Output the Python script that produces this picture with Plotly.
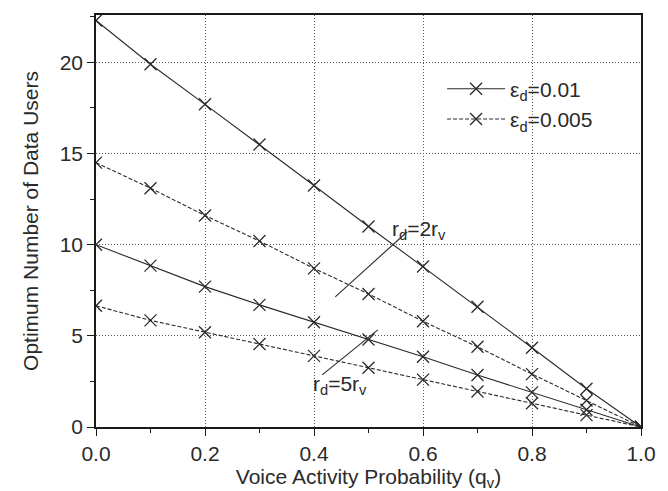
import plotly.graph_objects as go

q = [0.0, 0.1, 0.2, 0.3, 0.4, 0.5, 0.6, 0.7, 0.8, 0.9, 1.0]
eps01_rd2 = [22.3, 19.9, 17.7, 15.5, 13.25, 11.0, 8.8, 6.6, 4.35, 2.1, 0.0]
eps005_rd2 = [14.5, 13.1, 11.6, 10.2, 8.7, 7.3, 5.8, 4.4, 2.9, 1.45, 0.0]
eps01_rd5 = [10.0, 8.85, 7.7, 6.7, 5.75, 4.8, 3.85, 2.85, 1.9, 0.95, 0.0]
eps005_rd5 = [6.65, 5.85, 5.2, 4.55, 3.9, 3.25, 2.6, 1.95, 1.3, 0.65, 0.0]

x_ticks = [0.0, 0.2, 0.4, 0.6, 0.8, 1.0]
x_tick_labels = ["0.0", "0.2", "0.4", "0.6", "0.8", "1.0"]
y_ticks = [0, 5, 10, 15, 20]

legend_names = ["ε<sub>d</sub>=0.01", "ε<sub>d</sub>=0.005"]

# annotation pointer lines (data coords)
ann2_x = [0.439, 0.571]
ann2_y = [7.14, 10.71]
ann5_x = [0.415, 0.517]
ann5_y = [2.86, 5.33]

C = "#2a2a2a"
FONT = "Liberation Sans, Arial, sans-serif"
FS = 21

fig = go.Figure()

def add(y, dash, name, show):
    fig.add_trace(go.Scatter(
        x=q, y=y, mode="lines+markers", name=name, showlegend=show,
        line=dict(color=C, width=1.1, dash=dash),
        marker=dict(symbol="x-thin-open", size=12, line=dict(color=C, width=1.3), color=C),
    ))

add(eps01_rd2, "solid", legend_names[0], True)
add(eps005_rd2, "4px,2px", legend_names[1], True)
add(eps01_rd5, "solid", legend_names[0], False)
add(eps005_rd5, "4px,2px", legend_names[1], False)

for xs, ys in [(ann2_x, ann2_y), (ann5_x, ann5_y)]:
    fig.add_trace(go.Scatter(x=xs, y=ys, mode="lines", showlegend=False,
                             line=dict(color=C, width=1.1), hoverinfo="skip"))

fig.add_annotation(x=0.54, y=10.8, text="r<sub>d</sub>=2r<sub>v</sub>", showarrow=False,
                   xanchor="left", yanchor="middle", font=dict(size=FS, color=C, family=FONT))
fig.add_annotation(x=0.395, y=2.3, text="r<sub>d</sub>=5r<sub>v</sub>", showarrow=False,
                   xanchor="left", yanchor="middle", font=dict(size=FS, color=C, family=FONT))

axis_common = dict(
    showline=True, linecolor="#1a1a1a", linewidth=1.5, mirror=True,
    ticks="outside", ticklen=7, tickwidth=1.3, tickcolor="#1a1a1a",
    showgrid=True, gridcolor="#555555", griddash="1px,2px", gridwidth=1,
    zeroline=False, tickfont=dict(size=FS, color=C, family=FONT),
    automargin=False,
)

fig.update_xaxes(range=[0, 1], tickvals=x_ticks, ticktext=x_tick_labels,
                 minor=dict(dtick=0.1, ticks="outside", ticklen=4, tickcolor="#1a1a1a", showgrid=False),
                 title=dict(text="Voice Activity Probability (q<sub>v</sub>)", font=dict(size=FS, color=C, family=FONT)),
                 **axis_common)
fig.update_yaxes(range=[0, 22.6], tickvals=y_ticks,
                 minor=dict(dtick=2.5, ticks="outside", ticklen=4, tickcolor="#1a1a1a", showgrid=False),
                 title=dict(text="Optimum Number of Data Users", font=dict(size=FS, color=C, family=FONT)),
                 **axis_common)

fig.update_layout(
    width=668, height=491,
    margin=dict(l=96, r=27, t=15, b=64),
    paper_bgcolor="white", plot_bgcolor="white",
    showlegend=True,
    legend=dict(x=0.635, y=0.87, xanchor="left", yanchor="top", bgcolor="rgba(0,0,0,0)",
                font=dict(size=FS, color=C, family=FONT), itemwidth=58, tracegroupgap=0),
)

fig.write_html("out.html")
